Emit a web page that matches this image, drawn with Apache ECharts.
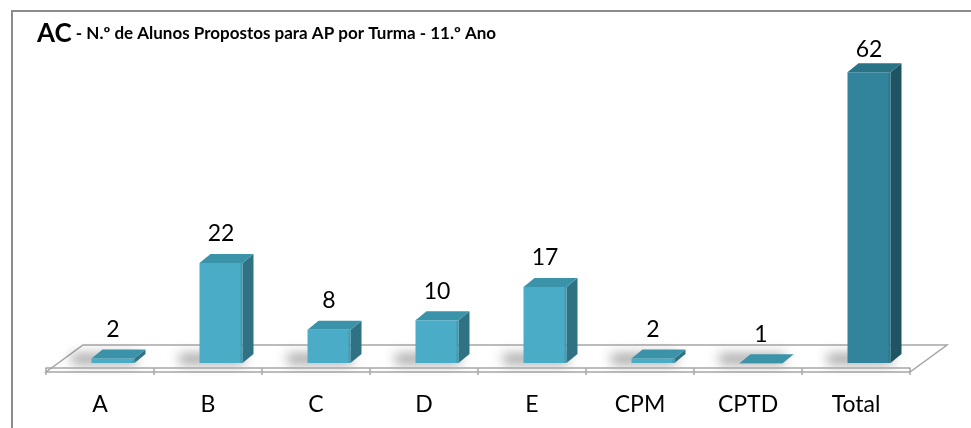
<!DOCTYPE html>
<html>
<head>
<meta charset="utf-8">
<script src="https://cdn.jsdelivr.net/npm/echarts@6/dist/echarts.min.js"></script>
<style>
  html, body { margin: 0; padding: 0; background: #fff; }
  #chart { width: 971px; height: 428px; }
</style>
</head>
<body>
<div id="chart"></div>
<script>
// dados
var turmas = ['A', 'B', 'C', 'D', 'E', 'CPM', 'CPTD', 'Total'];
var alunos = [2, 22, 8, 10, 17, 2, 1, 62];

var FONT = 'Lato';
var corNormal = { front: '#4aacc6', top: '#3b93aa', side: '#2e7284' };
var corTotal = { front: '#31849b', top: '#2a7286', side: '#1f5563' };

var chart = echarts.init(document.getElementById('chart'));

// barra 3D desenhada a partir das coordenadas dos eixos
function renderBarra(params, api) {
    var i = api.value(0);
    var v = api.value(1);
    var base = api.coord([i, 0]);
    var topo = api.coord([i, v]);
    var w = 43, dx = 11, dy = 9;
    var x0 = base[0] + 13 - w / 2;
    var x1 = x0 + w;
    var yb = base[1] - 5;
    var yt = topo[1];
    var c = (i === turmas.length - 1) ? corTotal : corNormal;
    var fora = 3000; // sombra desfocada: forma fora do ecrã, só a sombra aparece
    return {
        type: 'group',
        children: [
            {
                type: 'rect',
                shape: { x: x0 - 20 - fora, y: yb - 9, width: w + 22, height: 10 },
                style: {
                    fill: '#000',
                    shadowColor: 'rgba(0,0,0,0.38)',
                    shadowBlur: 12,
                    shadowOffsetX: fora
                }
            },
            {
                type: 'polygon',
                shape: { points: [[x1, yt], [x1 + dx, yt - dy], [x1 + dx, yb - dy], [x1, yb]] },
                style: { fill: c.side }
            },
            {
                type: 'polygon',
                shape: { points: [[x0, yt], [x0 + dx, yt - dy], [x1 + dx, yt - dy], [x1, yt]] },
                style: { fill: c.top }
            },
            {
                type: 'rect',
                shape: { x: x0, y: yt, width: w, height: yb - yt },
                style: {
                    fill: new echarts.graphic.LinearGradient(0, 0, 1, 0, [
                        { offset: 0, color: c.front },
                        { offset: 0.5, color: c.front },
                        { offset: 0.93, color: c.front },
                        { offset: 1, color: c.top }
                    ])
                }
            },
            {
                type: 'text',
                x: x0 + w / 2,
                y: Math.max(yt - 29, 50),
                style: {
                    text: String(v),
                    fill: '#000',
                    font: '23px ' + FONT,
                    align: 'center',
                    verticalAlign: 'middle'
                }
            }
        ]
    };
}

// chão do gráfico
function renderChao(params, api) {
    var bw = api.size([1, 0])[0];
    var p0 = api.coord([0, 0]);
    var pN = api.coord([turmas.length - 1, 0]);
    var xl = p0[0] - bw / 2, xr = pN[0] + bw / 2;
    var yf = p0[1] + 4, yk = p0[1] - 23, d = 37;
    return {
        type: 'polygon',
        shape: { points: [[xl, yf], [xr, yf], [xr + d, yk], [xl + d, yk]] },
        style: { fill: '#fff', stroke: '#a6a6a6', lineWidth: 1.5 }
    };
}

var option = {
    animation: false,
    backgroundColor: '#fff',
    graphic: [
        {
            type: 'polyline',
            shape: { points: [[12, 430], [12, 11], [975, 11]] },
            style: { stroke: '#8c8c8c', lineWidth: 2, fill: null }
        },
        {
            type: 'text',
            left: 37,
            top: 21,
            style: {
                rich: {
                    a: { font: 'bold 26px ' + FONT, fill: '#000' },
                    b: { font: 'bold 17px ' + FONT, fill: '#000' }
                },
                text: '{a|AC}{b| - N.º de Alunos Propostos para AP por Turma - 11.º Ano}'
            }
        }
    ],
    grid: { left: 46, right: 61, top: 34, bottom: 60 },
    xAxis: {
        type: 'category',
        data: turmas,
        offset: 4,
        axisLine: { lineStyle: { color: '#a6a6a6', width: 1.5 } },
        axisTick: { show: true, length: 7, lineStyle: { color: '#a6a6a6', width: 1.5 } },
        axisLabel: { color: '#000', fontFamily: FONT, fontSize: 23, margin: 21 },
        z: 5
    },
    yAxis: {
        type: 'value',
        min: 0,
        max: 70,
        show: false
    },
    series: [
        {
            type: 'custom',
            renderItem: renderChao,
            data: [[0, 0]],
            z: 1,
            silent: true
        },
        {
            type: 'custom',
            renderItem: renderBarra,
            data: alunos.map(function (v, i) { return [i, v]; }),
            encode: { x: 0, y: 1 },
            z: 2
        }
    ]
};

chart.setOption(option);
</script>
</body>
</html>
